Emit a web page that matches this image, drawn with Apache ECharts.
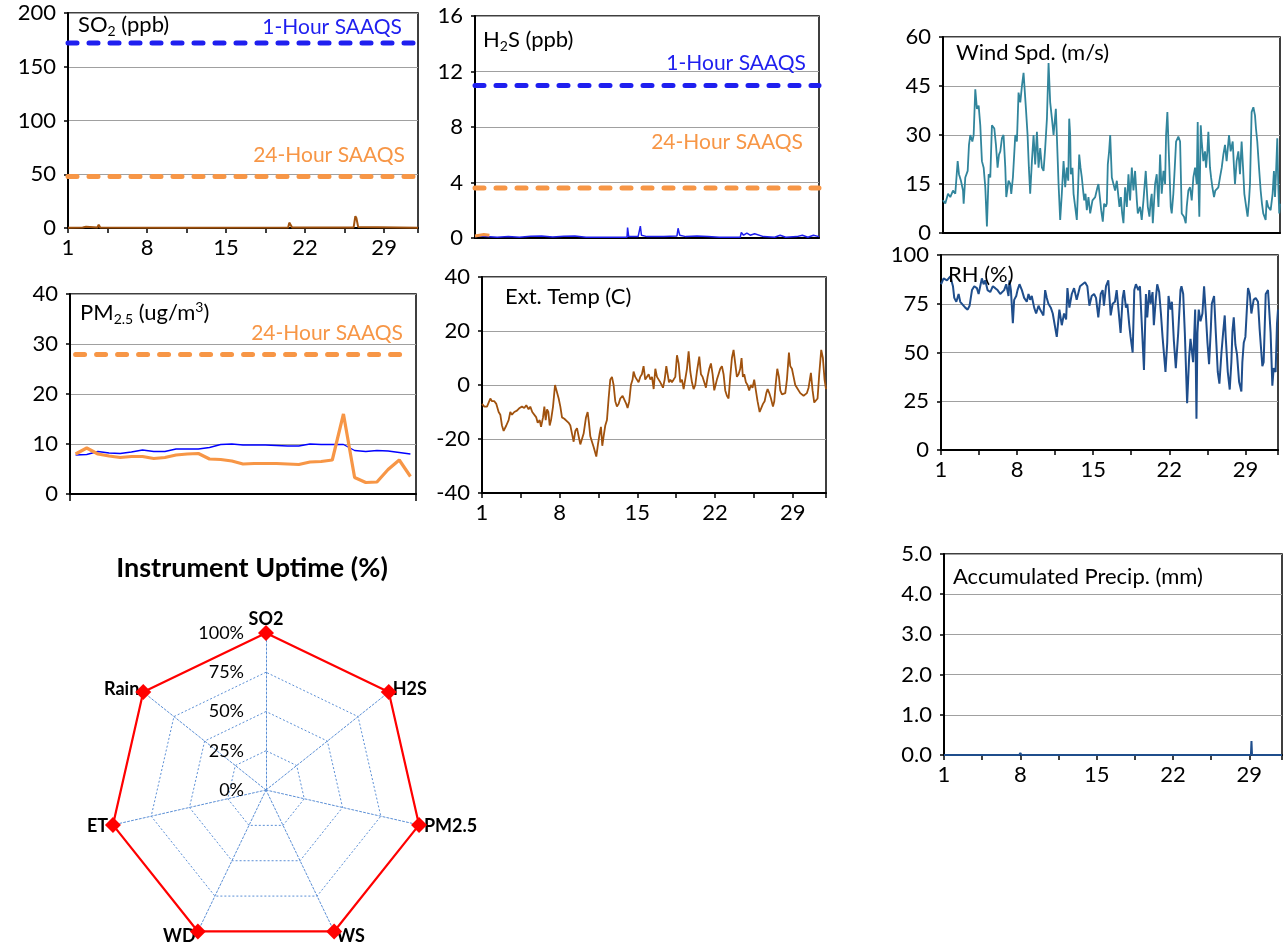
<!DOCTYPE html>
<html>
<head>
<meta charset="utf-8">
<script src="https://cdn.jsdelivr.net/npm/echarts@6/dist/echarts.min.js"></script>
<style>
html,body{margin:0;padding:0;background:#fff;}
#c{width:1285px;height:947px;}
</style>
</head>
<body>
<div id="c"></div>
<script>
// ---------------- DATA ----------------
const X_TICKS = [1, 8, 15, 22, 29];
const SO2_1H = 172, SO2_24H = 48;
const H2S_1H = 11, H2S_24H = 3.6;
const PM_24H = 28;

const SO2 = [[1,0.3],[2.3,0.5],[2.45,1.5],[2.6,1.2],[2.75,0.4],[3.6,0.5],[3.72,3],[3.85,0.5],[10,0.3],[20.5,0.5],[20.6,5],[20.72,4],[20.85,0.5],[26.3,0.5],[26.45,11],[26.55,9],[26.7,1],[32,0.3]];

const H2S = [[1,0.1],[1.5,0.15],[2,0.1],[3,0.05],[4,0.1],[5,0.05],[6,0.12],[7,0.15],[8,0.08],[9,0.12],[10,0.15],[11,0.05],[12,0.05],[13,0.05],[14,0.05],[14.7,0.05],[14.75,0.75],[14.85,0.1],[15.7,0.1],[15.9,0.85],[16,0.2],[16.5,0.1],[17,0.1],[18,0.1],[19.2,0.15],[19.3,0.7],[19.45,0.2],[20,0.1],[21,0.15],[22,0.1],[23,0.05],[24,0.05],[24.9,0.05],[25,0.4],[25.2,0.2],[25.5,0.35],[25.8,0.2],[26.2,0.3],[27,0.1],[28,0.05],[28.5,0.2],[29,0.05],[30,0.1],[30.5,0.2],[31,0.05],[31.5,0.2],[32,0.1]];
const H2S_AVG = [[1,0.15],[1.4,0.2],[1.8,0.25],[2.3,0.2]];

const PM_DAYS = ['1','2','3','4','5','6','7','8','9','10','11','12','13','14','15','16','17','18','19','20','21','22','23','24','25','26','27','28','29','30','31'];
const PM_HOURLY = [7.8,7.9,8.5,8.2,8.1,8.4,8.8,8.5,8.5,9.0,9.0,9.0,9.3,9.9,10.0,9.8,9.8,9.8,9.7,9.6,9.6,10.0,9.9,9.9,9.9,8.7,8.5,8.7,8.6,8.3,8.0];
const PM_DAILY = [8.0,9.2,8.0,7.6,7.3,7.5,7.5,7.1,7.3,7.8,8.0,8.1,7.0,6.9,6.6,6.0,6.1,6.1,6.1,6.0,5.9,6.4,6.5,6.8,16.0,3.3,2.3,2.4,4.9,6.8,3.5];

const TEMP = [[1.00,-7],[1.21,-8],[1.45,-8],[1.60,-6.5],[1.75,-5],[1.90,-6],[2.11,-6],[2.29,-7],[2.50,-10],[2.65,-11],[2.80,-15],[2.95,-17],[3.19,-15],[3.40,-13],[3.55,-10],[3.70,-11],[3.91,-10],[4.15,-9.5],[4.39,-8.5],[4.60,-8],[4.81,-8.5],[4.99,-7.5],[5.20,-9],[5.35,-8],[5.53,-10],[5.71,-10],[5.89,-12],[6.02,-14],[6.20,-13],[6.32,-15.5],[6.50,-12],[6.62,-8],[6.74,-13],[6.86,-9],[6.98,-10],[7.10,-15],[7.22,-13],[7.40,-8],[7.58,0],[7.76,0.5],[7.91,-5],[8.06,-8],[8.21,-12],[8.42,-12.5],[8.60,-13],[8.81,-14],[8.96,-15],[9.11,-18],[9.26,-21],[9.41,-17],[9.56,-16],[9.71,-19],[9.86,-22],[10.01,-20],[10.16,-18],[10.37,-12],[10.52,-10],[10.64,-14],[10.76,-19],[10.91,-21],[11.06,-23],[11.30,-26.5],[11.45,-22],[11.60,-18],[11.72,-15.5],[11.84,-22.5],[11.96,-19],[12.11,-15],[12.26,-13],[12.41,-5],[12.56,2],[12.71,3],[12.86,0],[13.01,-6],[13.16,-8],[13.31,-7],[13.46,-5],[13.67,-4],[13.82,-4.5],[14.00,-7],[14.12,-8.5],[14.27,-6],[14.42,0],[14.57,2],[14.66,5],[14.81,3],[14.96,2],[15.11,1],[15.26,3],[15.41,4],[15.56,7],[15.71,2],[15.86,1.5],[16.02,4],[16.17,2],[16.32,3],[16.47,-1.5],[16.62,6],[16.77,3],[16.92,2],[17.07,1],[17.22,1],[17.31,-1],[17.46,2],[17.61,7],[17.73,7],[17.85,1],[17.97,2],[18.12,1],[18.27,1],[18.42,3],[18.57,11],[18.72,8],[18.87,1],[19.02,2],[19.17,-1.5],[19.32,-1],[19.47,6],[19.62,12.5],[19.77,5],[19.92,1],[20.07,-1.5],[20.22,0],[20.37,5],[20.58,10.5],[20.73,4],[20.88,3],[21.03,1],[21.18,-1],[21.33,3],[21.48,6],[21.63,8],[21.78,4],[21.93,-2],[22.05,0],[22.17,2],[22.32,4],[22.47,6],[22.62,7],[22.77,4],[22.92,-2],[23.07,-4],[23.22,-5],[23.37,3],[23.52,10],[23.67,13],[23.82,8],[23.97,3],[24.12,4],[24.27,6],[24.39,10],[24.51,3],[24.63,4],[24.78,1],[24.93,0],[25.08,-2],[25.23,0],[25.38,-1],[25.53,2],[25.68,-2],[25.83,-6],[26.02,-10],[26.17,-9.5],[26.32,-7],[26.47,-6],[26.62,-3],[26.74,-1.5],[26.89,-3],[27.04,-5],[27.22,-8],[27.34,-6],[27.46,0],[27.61,6],[27.76,3],[27.88,-2],[28.03,-3.5],[28.18,-3],[28.33,-3],[28.48,2],[28.66,12],[28.78,7],[28.93,6],[29.08,3],[29.23,0],[29.38,-1],[29.53,-1],[29.68,-3],[29.83,-3],[29.98,-4],[30.13,-4],[30.28,-3],[30.43,-1],[30.64,4.5],[30.79,-2],[30.94,-6.5],[31.09,-7],[31.24,-5],[31.39,4],[31.57,13],[31.72,10],[31.87,2],[32.00,-1.5]];

const WIND = [[1.00,10],[1.21,9],[1.46,12],[1.67,11],[1.92,13],[2.13,12],[2.35,22],[2.47,18],[2.65,16],[2.84,13],[2.90,9],[3.05,17],[3.27,19],[3.39,27],[3.51,30],[3.70,28],[3.82,30],[3.97,44],[4.12,38],[4.28,39],[4.43,33],[4.58,22],[4.74,20],[4.89,14],[5.04,2],[5.20,18],[5.35,17],[5.50,33],[5.72,32],[5.87,27],[6.02,20],[6.15,24],[6.27,25],[6.42,29],[6.57,30],[6.73,20],[6.82,11],[7.03,16],[7.19,15],[7.28,12],[7.43,17],[7.65,30],[7.80,28],[7.95,43],[8.11,40],[8.26,45],[8.41,49],[8.63,38],[8.78,30],[8.90,20],[9.02,12],[9.18,22],[9.33,30],[9.48,21],[9.64,31],[9.79,20],[9.94,26],[10.10,20],[10.25,19],[10.40,26],[10.56,35],[10.71,52],[10.86,40],[11.02,35],[11.17,30],[11.38,38],[11.47,30],[11.63,15],[11.78,4],[11.93,12],[12.09,22],[12.24,14],[12.39,20],[12.52,16],[12.61,35],[12.70,30],[12.76,18],[12.91,20],[13.01,12],[13.16,8],[13.31,4],[13.43,14],[13.53,24],[13.65,20],[13.77,17],[13.89,13],[13.99,10],[14.11,12],[14.23,7],[14.38,11],[14.54,6],[14.75,10],[15.00,11],[15.21,14],[15.30,15],[15.46,10],[15.55,7],[15.70,3.5],[15.82,9],[15.98,8],[16.07,9],[16.16,21],[16.28,25],[16.38,30],[16.53,17],[16.68,15],[16.83,13],[16.99,16],[17.11,12],[17.23,8],[17.36,11],[17.48,6],[17.60,3],[17.75,14],[17.91,8],[18.06,18],[18.21,10],[18.37,20],[18.52,13],[18.67,19],[18.83,10],[18.92,6],[19.13,8],[19.28,4],[19.44,10],[19.65,19],[19.84,8],[19.99,5],[20.11,10],[20.20,12],[20.30,3],[20.51,15],[20.66,18],[20.82,8],[20.97,24],[21.12,12],[21.28,19],[21.43,15],[21.52,30],[21.64,37],[21.80,22],[21.95,8],[22.04,6],[22.19,12],[22.32,20],[22.44,28],[22.65,29.5],[22.81,28],[22.90,15],[22.96,6],[23.17,5],[23.33,3],[23.42,8],[23.57,13],[23.73,14],[23.88,10],[24.03,17],[24.19,20],[24.34,15],[24.43,34],[24.52,12],[24.58,5],[24.71,33],[24.80,28],[24.95,22],[25.10,25],[25.20,20],[25.32,25],[25.41,31],[25.56,20],[25.66,17],[25.78,14],[25.93,11],[26.05,13],[26.18,13],[26.33,14],[26.48,17],[26.64,20],[26.79,24],[26.94,27],[27.09,22],[27.31,30],[27.46,25],[27.65,28],[27.77,20],[27.86,15],[28.01,22],[28.17,25],[28.32,18],[28.47,28],[28.60,20],[28.72,12],[28.93,7],[29.02,5],[29.15,10],[29.24,15],[29.39,37],[29.55,38.5],[29.70,36],[29.79,32],[29.91,28],[30.07,20],[30.22,13],[30.34,9],[30.46,6],[30.68,4],[30.77,10],[30.92,8],[31.14,7],[31.32,12],[31.44,19],[31.54,11],[31.63,18],[31.75,29],[31.84,15],[31.93,6],[32.00,9]];

const RH = [[1.00,85],[1.09,85],[1.24,88],[1.55,87],[1.70,88],[1.86,89],[2.10,84],[2.22,78],[2.41,76],[2.62,80],[2.77,76],[2.93,76],[3.23,73],[3.45,72],[3.63,74],[3.85,82],[4.06,84],[4.30,83],[4.46,80],[4.61,81],[4.76,88],[4.92,85],[5.07,87],[5.28,82],[5.53,81],[5.77,84],[5.99,83],[6.20,82],[6.45,80],[6.60,81],[6.81,82],[7.00,85],[7.21,79],[7.30,87],[7.43,82],[7.61,65],[7.73,77],[7.92,79],[8.04,82],[8.22,85],[8.44,82],[8.65,78],[8.89,76],[9.05,80],[9.20,77],[9.35,79],[9.57,73],[9.75,70],[9.97,74],[10.12,72],[10.27,73],[10.42,69],[10.58,82],[10.73,78],[10.88,75],[11.10,73],[11.28,70],[11.65,58],[11.89,72],[12.11,64],[12.32,70],[12.51,67],[12.63,83],[12.81,73],[13.03,80],[13.24,83],[13.48,77],[13.79,84],[14.25,86],[14.46,84],[14.65,74],[14.86,79],[15.08,80],[15.26,78],[15.47,68],[15.69,80],[15.87,82],[15.99,74],[16.18,84],[16.39,87],[16.61,69],[16.79,75],[17.00,76],[17.16,82],[17.31,73],[17.52,60],[17.71,78],[17.83,82],[18.01,73],[18.14,75],[18.32,64],[18.44,58],[18.63,50],[18.78,82],[18.93,85],[19.15,82],[19.30,84],[19.51,60],[19.67,41],[19.85,80],[19.97,68],[20.16,82],[20.28,75],[20.46,81],[20.58,64],[20.77,78],[20.89,85],[21.07,81],[21.23,70],[21.38,58],[21.65,40],[21.81,55],[21.93,79],[22.11,72],[22.24,76],[22.42,56],[22.60,42],[22.82,60],[23.03,82],[23.12,84],[23.28,80],[23.43,60],[23.64,24],[23.83,48],[23.95,57],[24.07,56],[24.19,45],[24.29,58],[24.38,72],[24.50,16],[24.59,60],[24.71,72],[24.87,66],[25.05,70],[25.20,84],[25.36,70],[25.51,55],[25.66,44],[25.82,62],[25.91,75],[26.12,79],[26.28,60],[26.46,40],[26.61,34],[26.80,50],[26.95,60],[27.10,69],[27.19,58],[27.38,40],[27.56,31],[27.71,45],[27.81,61],[27.93,68],[28.08,54],[28.23,49],[28.42,35],[28.63,30],[28.72,45],[28.85,55],[29.00,58],[29.24,83],[29.40,80],[29.55,70],[29.76,77],[29.95,78],[30.16,76],[30.31,62],[30.56,43],[30.68,45],[30.87,80],[31.08,82],[31.23,83],[31.32,60],[31.48,33],[31.60,42],[31.78,40],[31.91,65],[32.00,72]];

const PRECIP = [[1,0],[7.9,0],[8,0.05],[8.1,0],[21.5,0],[21.6,0.03],[21.7,0],[24.9,0],[25,0.03],[25.1,0],[29.15,0],[29.2,0.35],[29.25,0],[32,0]];

// Radar (ECharts lays indicators counter-clockwise, so listed in that order)
const RADAR_NAMES = ['SO2','Rain','ET','WD','WS','PM2.5','H2S'];
const UPTIME = [100,100,100,100,100,100,100];

// ---------------- STYLE ----------------
const FONT = 'Lato';
const TICK_FS = 22;
const BLUE = '#1f1fef';
const ORANGE = '#f79646';
const BROWN = '#a0520e';

function xVal(gi, show) {
  return {type:'value', gridIndex:gi, min:1, max:32, interval:7,
    axisLine:{show:true, onZero:false, lineStyle:{color:'#000', width:2}},
    axisTick:{show:show, length:5, lineStyle:{color:'#000', width:1.5}},
    minorTick:{show:show, splitNumber:2, length:5, lineStyle:{color:'#000', width:1.5}},
    axisLabel:{show:show, fontSize:TICK_FS, color:'#000', fontFamily:FONT, margin:9,
      formatter: v => X_TICKS.indexOf(v) >= 0 ? String(v) : ''},
    splitLine:{show:false}};
}
function yVal(gi, min, max, interval, fmt) {
  return {type:'value', gridIndex:gi, min:min, max:max, interval:interval,
    axisLine:{show:true, onZero:false, lineStyle:{color:'#000', width:2}},
    axisTick:{show:true, length:4, lineStyle:{color:'#000', width:1.5}},
    axisLabel:{fontSize:TICK_FS, color:'#000', fontFamily:FONT, margin:12, formatter: fmt},
    splitLine:{show:true, lineStyle:{color:'#a0a0a0', width:1.2}}};
}
function grid(l,t,w,h){ return {left:l, top:t, width:w, height:h, show:true, borderColor:'#000', borderWidth:1.5, backgroundColor:'transparent'}; }

const richBase = {
  t:{fontSize:22, fontWeight:'normal', color:'#000', fontFamily:FONT, lineHeight:26},
  s:{fontSize:14, fontWeight:'normal', color:'#000', fontFamily:FONT, lineHeight:26, verticalAlign:'bottom'},
  p:{fontSize:14, fontWeight:'normal', color:'#000', fontFamily:FONT, lineHeight:26, verticalAlign:'top'}
};
function ttl(text, left, top) {
  return {text:text, left:left, top:top, padding:0, textAlign:'left',
    textStyle:{fontWeight:'normal', rich:richBase}};
}
function note(text, color, right, top) {
  return {text:text, right:right, top:top, padding:0, textAlign:'left',
    textStyle:{fontSize:21, fontWeight:'normal', color:color, fontFamily:FONT, lineHeight:24}};
}
function dash(xi, v, color) {
  return {type:'line', xAxisIndex:xi, yAxisIndex:xi, data:[[1,v],[32,v]], symbol:'none', silent:true,
    lineStyle:{color:color, width:5, type:[9,12], cap:'round'}, z:3};
}

const option = {
  animation:false,
  backgroundColor:'#fff',
  textStyle:{fontFamily:FONT},
  title:[
    ttl('{t|SO}{s|2}{t| (ppb)}', 78, 12),
    ttl('{t|H}{s|2}{t|S (ppb)}', 483, 27),
    ttl('{t|PM}{s|2.5}{t| (ug/m}{p|3}{t|)}', 80, 300),
    ttl('{t|Ext. Temp (C)}', 505, 284),
    ttl('{t|Wind Spd. (m/s)}', 956, 40),
    ttl('{t|RH (%)}', 948, 262),
    ttl('{t|Accumulated Precip. (mm)}', 953, 564),
    note('1-Hour SAAQS', BLUE, 883, 15),
    note('24-Hour SAAQS', ORANGE, 880, 143),
    note('1-Hour SAAQS', BLUE, 479, 51),
    note('24-Hour SAAQS', ORANGE, 482, 130),
    note('24-Hour SAAQS', ORANGE, 882, 321),
    {text:'Instrument Uptime (%)', left:252, top:553, padding:0, textAlign:'center',
      textStyle:{fontSize:27, fontWeight:'bold', color:'#000', fontFamily:FONT, lineHeight:30}}
  ],
  grid:[
    grid(68,13,350,215),
    grid(475,16,344,222),
    grid(70,294,346,200),
    grid(482,277,344,216),
    grid(943,37,337,196),
    grid(941,255,337,195),
    grid(944,554,338,201)
  ],
  xAxis:[
    xVal(0,true),
    xVal(1,false),
    {type:'category', gridIndex:2, data:PM_DAYS, boundaryGap:true,
      axisLine:{show:true, lineStyle:{color:'#000', width:2}},
      axisTick:{show:true, length:7, interval:(i)=>i===0, lineStyle:{color:'#000', width:1.5}},
      axisLabel:{show:false}, splitLine:{show:false}},
    xVal(3,true),
    xVal(4,false),
    xVal(5,true),
    xVal(6,true)
  ],
  yAxis:[
    yVal(0,0,200,50),
    yVal(1,0,16,4),
    yVal(2,0,40,10),
    yVal(3,-40,40,20),
    yVal(4,0,60,15),
    yVal(5,0,100,25),
    yVal(6,0,5,1, v => v.toFixed(1))
  ],
  radar:{
    center:[266,790], radius:157, startAngle:90, splitNumber:4, shape:'polygon',
    indicator: RADAR_NAMES.map(n => ({name:n, min:0, max:100})),
    axisName:{color:'#000', fontWeight:'bold', fontSize:18, fontFamily:FONT},
    nameGap:5,
    axisLine:{lineStyle:{color:'#5b8fd6', type:[2,2], width:1}},
    splitLine:{lineStyle:{color:'#5b8fd6', type:[2,2], width:1}},
    splitArea:{show:false},
    axisTick:{show:false},
    axisLabel:{show:false}
  },
  polar:{center:[266,790], radius:157},
  angleAxis:{show:false, startAngle:90, min:0, max:360},
  radiusAxis:{min:0, max:100, interval:25, z:1,
    axisLine:{show:false}, axisTick:{show:false}, splitLine:{show:false},
    axisLabel:{formatter:'{value}%', fontSize:18, color:'#000', fontFamily:FONT, margin:22}},
  series:[
    dash(0, SO2_1H, BLUE),
    dash(0, SO2_24H, ORANGE),
    {type:'line', xAxisIndex:0, yAxisIndex:0, data:SO2, symbol:'none', lineStyle:{color:BROWN, width:2}, z:4},
    dash(1, H2S_1H, BLUE),
    dash(1, H2S_24H, ORANGE),
    {type:'line', xAxisIndex:1, yAxisIndex:1, data:H2S, symbol:'none', lineStyle:{color:BLUE, width:1.5}, z:4},
    {type:'line', xAxisIndex:1, yAxisIndex:1, data:H2S_AVG, symbol:'none', lineStyle:{color:ORANGE, width:3}, z:5},
    {type:'line', xAxisIndex:2, yAxisIndex:2, data:PM_HOURLY, symbol:'none', lineStyle:{color:'#0000ff', width:1.3}, z:4},
    {type:'line', xAxisIndex:2, yAxisIndex:2, data:PM_DAILY, symbol:'none', lineStyle:{color:ORANGE, width:3.2}, z:5,
      markLine:{silent:true, symbol:'none', label:{show:false},
        lineStyle:{color:ORANGE, width:5, type:[9,12], cap:'round'},
        data:[[{coord:[PM_DAYS[0], PM_24H]},{coord:[PM_DAYS[PM_DAYS.length-1], PM_24H]}]]}},
    {type:'line', xAxisIndex:3, yAxisIndex:3, data:TEMP, symbol:'none', lineStyle:{color:BROWN, width:1.8}},
    {type:'line', xAxisIndex:4, yAxisIndex:4, data:WIND, symbol:'none', lineStyle:{color:'#31859c', width:1.8}},
    {type:'line', xAxisIndex:5, yAxisIndex:5, data:RH, symbol:'none', lineStyle:{color:'#1f4e8c', width:2}},
    {type:'line', xAxisIndex:6, yAxisIndex:6, data:PRECIP, symbol:'none', lineStyle:{color:'#1f4e8c', width:2}},
    {type:'radar', radarIndex:0, symbol:'diamond', symbolSize:16,
      lineStyle:{color:'#ff0000', width:2.2}, itemStyle:{color:'#ff0000'},
      data:[{value:UPTIME, name:'Uptime'}]}
  ]
};
const chart = echarts.init(document.getElementById('c'), null, {renderer:'canvas'});
chart.setOption(option);
</script>
</body>
</html>
